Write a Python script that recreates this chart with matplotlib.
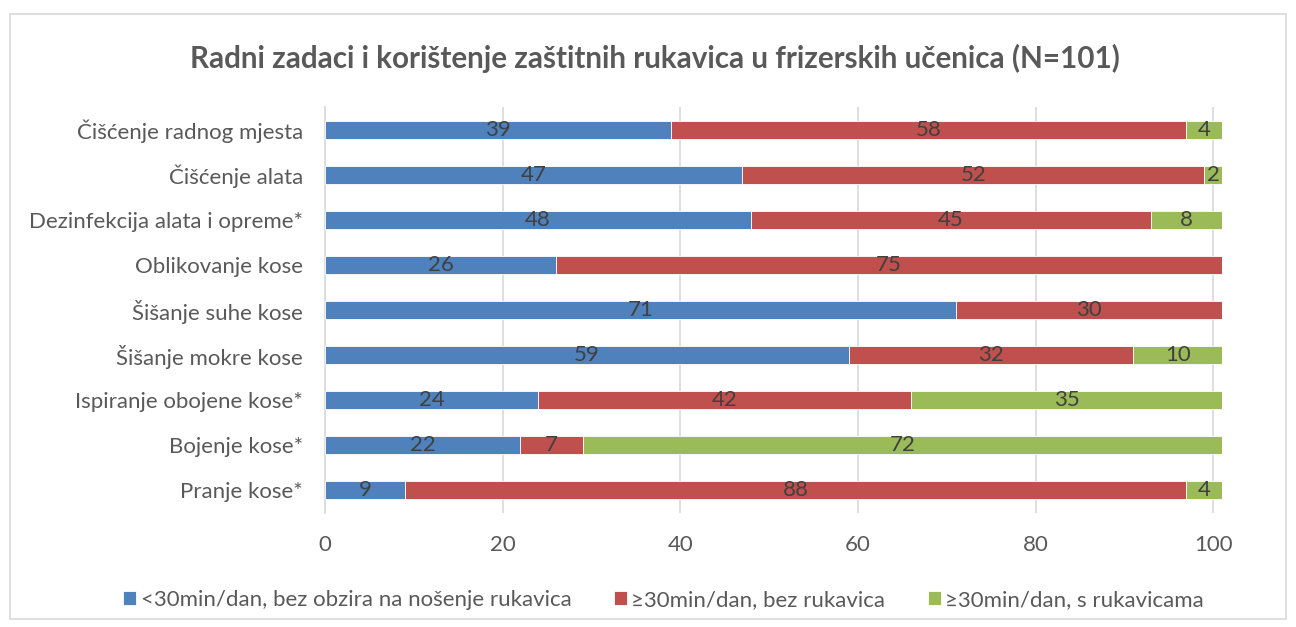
import matplotlib as mpl
mpl.use('Agg')
import matplotlib.pyplot as plt
import numpy as np
from matplotlib.patches import Rectangle

plt.rcParams['font.family'] = ['Lato', 'DejaVu Sans']

tasks = ['Čišćenje radnog mjesta', 'Čišćenje alata', 'Dezinfekcija alata i opreme*',
         'Oblikovanje kose', 'Šišanje suhe kose', 'Šišanje mokre kose',
         'Ispiranje obojene kose*', 'Bojenje kose*', 'Pranje kose*']
under30 = [39, 47, 48, 26, 71, 59, 24, 22, 9]
over30_no_gloves = [58, 52, 45, 75, 30, 32, 42, 7, 88]
over30_gloves = [4, 2, 8, 0, 0, 10, 35, 72, 4]
series_names = ['<30min/dan, bez obzira na nošenje rukavica',
                '≥30min/dan, bez rukavica',
                '≥30min/dan, s rukavicama']
colors = ['#4F81BD', '#C0504D', '#9BBB59']

fig = plt.figure(figsize=(12.96, 6.27), dpi=100)
ax = fig.add_axes([0.2508, 0.1818, 0.6921, 0.6475])

# chart border
fig.patches.append(Rectangle((0.008, 0.012), 0.984, 0.966, transform=fig.transFigure,
                             fill=False, edgecolor='#D9D9D9', linewidth=1.2))

y = np.arange(len(tasks))[::-1]
left = np.zeros(len(tasks))
for vals, name, col in zip([under30, over30_no_gloves, over30_gloves], series_names, colors):
    vals = np.array(vals, dtype=float)
    bars = ax.barh(y, vals, left=left, height=0.40, color=col, label=name,
                   edgecolor='white', linewidth=0.6, zorder=3)
    for b, v in zip(bars, vals):
        if v > 0:
            ax.text(b.get_x() + b.get_width() / 2, b.get_y() + b.get_height() / 2,
                    f'{int(v)}', ha='center', va='center', fontsize=16,
                    color='#404040', zorder=4)
    left += vals

ax.set_xlim(0, 101)
ax.set_ylim(-0.5, len(tasks) - 0.5)
ax.set_xticks(np.arange(0, 101, 20))
ax.set_yticks(y)
ax.set_yticklabels(tasks)
ax.tick_params(axis='both', length=0, labelsize=16, labelcolor='#595959')
ax.tick_params(axis='y', pad=16)
ax.tick_params(axis='x', pad=16)
ax.grid(axis='x', color='#D9D9D9', linewidth=1.2, zorder=0)
ax.set_axisbelow(True)
for s in ['top', 'right', 'bottom']:
    ax.spines[s].set_visible(False)
ax.spines['left'].set_color('#D9D9D9')
ax.spines['left'].set_linewidth(1.2)

fig.suptitle('Radni zadaci i korištenje zaštitnih rukavica u frizerskih učenica (N=101)',
             x=0.505, y=0.907, va='center', fontsize=21.3, fontweight='bold', color='#595959')

fig.legend(loc='center', bbox_to_anchor=(0.512, 0.043), ncol=3, frameon=False,
           fontsize=16, handlelength=0.6, handleheight=0.6, handletextpad=0.2,
           columnspacing=1.9, labelcolor='#595959')

plt.savefig('out.png', format='png')
